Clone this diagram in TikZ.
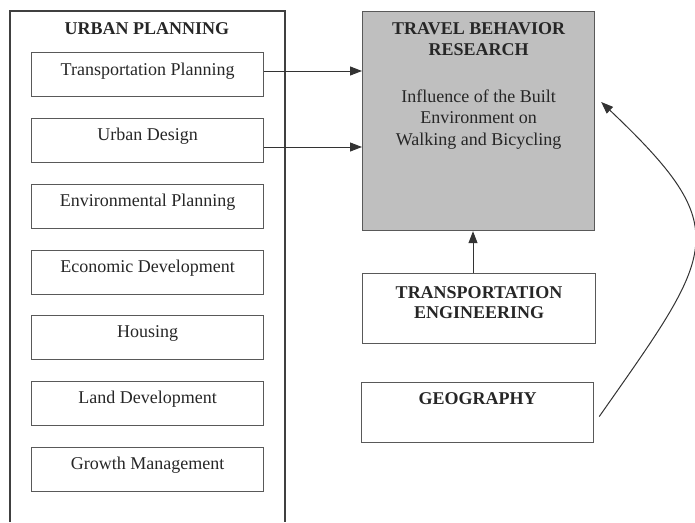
\documentclass[tikz,border=0pt]{standalone}
\usepackage{fontspec}
\setmainfont{Liberation Serif}
\usetikzlibrary{arrows.meta}
\begin{document}
\begin{tikzpicture}[x=1pt,y=-1pt,
  frame/.style={draw=black!75,line width=1.2pt},
  box/.style={draw=black!65,line width=1.2pt,anchor=north west,inner sep=0pt},
  item/.style={box,minimum width=232pt,minimum height=44pt},
  lbl/.style={anchor=base,inner sep=0pt,text=black!85,font=\fontsize{18}{21}\selectfont},
  head/.style={lbl,font=\fontsize{18}{20}\selectfont\bfseries},
  link/.style={draw=black!80,line width=1pt,-{Triangle[length=12pt,width=9pt]}}]
\useasboundingbox (0,0) rectangle (695,522);
% urban planning column (open at the bottom)
\draw[frame] (10,522) -- (10,11) -- (285,11) -- (285,522);
\node[head] (uptitle) at (147,34) {URBAN PLANNING};
\node[item] (tp) at (31,52) {};
\node[item] (ud) at (31,118) {};
\node[item] (ep) at (31,184) {};
\node[item] (ed) at (31,250) {};
\node[item] (ho) at (31,315) {};
\node[item] (ld) at (31,381) {};
\node[item] (gm) at (31,447) {};
\node[lbl] at ([yshift=-23pt]tp.north) {Transportation Planning};
\node[lbl] at ([yshift=-22.5pt]ud.north) {Urban Design};
\node[lbl] at ([yshift=-22.5pt]ep.north) {Environmental Planning};
\node[lbl] at ([yshift=-22.5pt]ed.north) {Economic Development};
\node[lbl] at ([yshift=-22.5pt]ho.north) {Housing};
\node[lbl] at ([yshift=-22.5pt]ld.north) {Land Development};
\node[lbl] at ([yshift=-22.5pt]gm.north) {Growth Management};
% travel behavior research
\node[box,fill=black!25,minimum width=232pt,minimum height=219pt] (tbr) at (362,11) {};
\node[head] at ([yshift=-23pt]tbr.north) {TRAVEL BEHAVIOR};
\node[head] at ([yshift=-44pt]tbr.north) {RESEARCH};
\node[lbl] at ([yshift=-91pt]tbr.north) {Influence of the Built};
\node[lbl] at ([yshift=-112.5pt]tbr.north) {Environment on};
\node[lbl] at ([yshift=-134pt]tbr.north) {Walking and Bicycling};
% transportation engineering
\node[box,minimum width=233pt,minimum height=70pt] (te) at (362,273) {};
\node[head] at ([yshift=-25pt]te.north) {TRANSPORTATION};
\node[head] at ([yshift=-45pt]te.north) {ENGINEERING};
% geography
\node[box,minimum width=232pt,minimum height=60pt] (geo) at (361,382) {};
\node[head] at ([yshift=-22pt]geo.north) {GEOGRAPHY};
% connectors
\draw[link] (tp.east |- 0,71) -- (tbr.west |- 0,71);
\draw[link] (ud.east |- 0,147) -- (tbr.west |- 0,147);
\draw[link] (te.north -| 473,0) -- (tbr.south -| 473,0);
\coordinate (gstart) at ([xshift=5pt,yshift=-4pt]geo.east);
\coordinate (gend) at ([xshift=6pt]tbr.east |- 0,102);
\draw[link] (gstart) .. controls (716,250) and (736,230) .. (gend);
\end{tikzpicture}
\end{document}
